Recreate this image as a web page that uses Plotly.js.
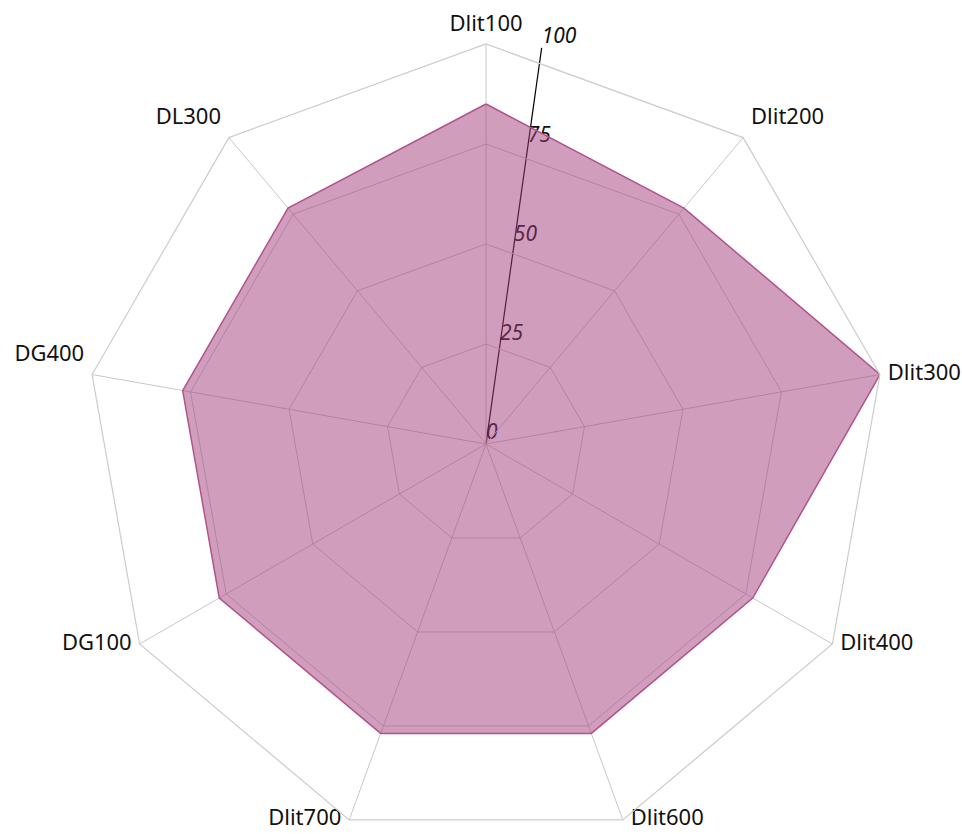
<!DOCTYPE html>
<html>
<head>
<meta charset="utf-8">
<script src="https://cdn.plot.ly/plotly-3.0.1.min.js"></script>
<style>
html,body{margin:0;padding:0;overflow:hidden;background:#fff;}
#chart{width:962px;height:846px;}
</style>
</head>
<body>
<div id="chart"></div>
<script>
const categories = ["Dlit100","Dlit200","Dlit300","Dlit400","Dlit600","Dlit700","DG100","DG400","DL300"];
const values = [85, 77, 100, 77, 77, 77, 77, 77, 77];
const radialTicks = [0, 25, 50, 75, 100];
const labelPositions = ["top center","top right","middle right","middle right","middle right","middle left","middle left","top left","top left"];

const radialMax = 100;
const axisAngle = 82;
const fontFamily = "Noto Sans, Open Sans, sans-serif";

const theta = categories.concat([categories[0]]);
const r = values.concat([values[0]]);

// tilted radial axis line + its tick labels (under the filled area)
const radialLabels = {
  type: "scatterpolar",
  subplot: "polar",
  r: radialTicks,
  theta: radialTicks.map(() => 90 - axisAngle),
  mode: "text",
  text: radialTicks.map(String),
  textposition: "top right",
  textfont: {family: fontFamily, size: 21, color: "#111", style: "italic"},
  cliponaxis: false,
  hoverinfo: "skip",
  showlegend: false
};

const dataTrace = {
  type: "scatterpolar",
  subplot: "polar2",
  r: r,
  theta: theta,
  mode: "lines",
  fill: "toself",
  fillcolor: "rgba(162,60,122,0.5)",
  line: {color: "rgb(178,84,140)", width: 1.5},
  hoverinfo: "skip",
  showlegend: false
};

const labelTrace = {
  type: "scatterpolar",
  subplot: "polar2",
  r: categories.map(() => radialMax),
  theta: categories,
  mode: "markers+text",
  marker: {size: 11, color: "rgba(0,0,0,0)"},
  text: categories,
  textposition: labelPositions,
  textfont: {family: fontFamily, size: 22, color: "#111"},
  cliponaxis: false,
  hoverinfo: "skip",
  showlegend: false
};

const fullDomain = {x: [0, 1], y: [0, 1]};

const layout = {
  width: 962,
  height: 846,
  margin: {l: 86, r: 76, t: 44, b: 2},
  paper_bgcolor: "#ffffff",
  showlegend: false,
  font: {family: fontFamily, size: 21, color: "#111"},
  polar: {
    domain: fullDomain,
    bgcolor: "rgba(0,0,0,0)",
    angularaxis: {
      type: "linear",
      direction: "clockwise",
      rotation: 90,
      showline: false,
      showgrid: false,
      showticklabels: false,
      ticks: ""
    },
    radialaxis: {
      range: [0, radialMax],
      angle: axisAngle,
      showline: true,
      linecolor: "#000000",
      linewidth: 1.2,
      showgrid: false,
      showticklabels: false,
      ticks: ""
    }
  },
  polar2: {
    domain: fullDomain,
    bgcolor: "rgba(0,0,0,0)",
    gridshape: "linear",
    angularaxis: {
      direction: "clockwise",
      rotation: 90,
      linecolor: "#cccccc",
      linewidth: 1.2,
      gridcolor: "#c8c8c8",
      showline: true,
      showticklabels: false,
      ticks: ""
    },
    radialaxis: {
      range: [0, radialMax],
      tickvals: radialTicks,
      showline: false,
      showticklabels: false,
      gridcolor: "#c8c8c8",
      ticks: ""
    }
  }
};

Plotly.newPlot("chart", [radialLabels, dataTrace, labelTrace], layout, {displayModeBar: false, staticPlot: true});
</script>
</body>
</html>
